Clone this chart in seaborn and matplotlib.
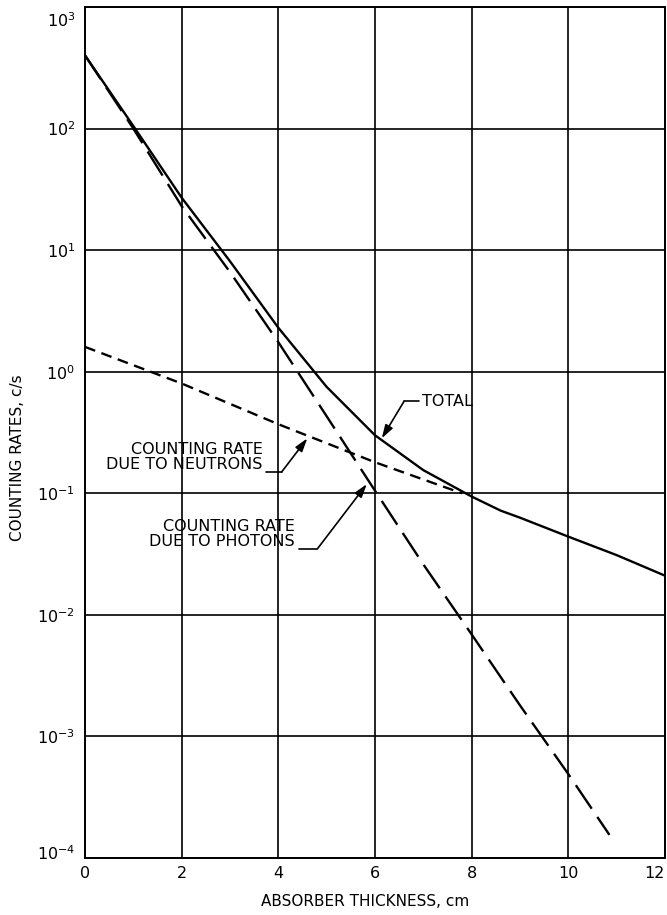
import matplotlib
matplotlib.use("Agg")
import matplotlib.pyplot as plt
import matplotlib.transforms as mtransforms
import numpy as np
import pandas as pd
import seaborn as sns

# Counting rate versus absorber thickness (cm), log scale in c/s
total_x = [0, 1, 2, 3, 4, 5, 6, 7, 8, 8.6, 9, 10, 11, 12]
total_y = [400, 105, 27, 8.1, 2.3, 0.75, 0.30, 0.155, 0.094, 0.072, 0.063, 0.044, 0.031, 0.021]

neutron_x = [0, 2, 4, 6, 7.8]
neutron_y = [1.6, 0.8, 0.37, 0.18, 0.1]

photon_x = [0, 1, 2, 3, 4, 5, 6, 7, 8, 9, 10, 10.85]
photon_y = [400, 100, 23, 6.6, 1.75, 0.43, 0.105, 0.026, 0.0069, 0.0018, 4.9e-4, 1.55e-4]

x_ticks = [0, 2, 4, 6, 8, 10, 12]
y_ticks = [1e-4, 1e-3, 1e-2, 1e-1, 1e0, 1e1, 1e2, 1e3]

sns.set_style("white")
plt.rcParams["font.family"] = ["DejaVu Sans"]
plt.rcParams["text.color"] = "black"
plt.rcParams["axes.labelcolor"] = "black"

fig = plt.figure(figsize=(6.67, 9.15), dpi=100)
W, H = 667, 915
ax = fig.add_axes([85 / W, (H - 858) / H, (665 - 85) / W, (858 - 7) / H])

total = pd.DataFrame({"x": total_x, "y": total_y})
neutron = pd.DataFrame({"x": neutron_x, "y": neutron_y})
photon = pd.DataFrame({"x": photon_x, "y": photon_y})

sns.lineplot(data=total, x="x", y="y", ax=ax, color="black", lw=1.7)
sns.lineplot(data=neutron, x="x", y="y", ax=ax, color="black", lw=1.7,
             linestyle=(0, (4.6, 2.8)))
sns.lineplot(data=photon, x="x", y="y", ax=ax, color="black", lw=1.7,
             linestyle=(0, (12, 4.2)))

ax.set_yscale("log")
ax.set_xlim(0, 12)
ax.set_ylim(1e-4, 1e3)
ax.set_xticks(x_ticks)
ax.set_xticklabels([str(v) for v in x_ticks])
ax.set_yticks(y_ticks)
ax.yaxis.set_minor_locator(matplotlib.ticker.NullLocator())
ax.tick_params(axis="both", length=0, labelsize=11.5, colors="black")
ax.tick_params(axis="x", pad=6)
ax.tick_params(axis="y", pad=7)
ax.grid(True, which="major", color="black", lw=1.2)
for s in ax.spines.values():
    s.set_color("black")
    s.set_linewidth(1.4)
ax.set_xlabel("")
ax.set_ylabel("")

# keep the end labels inside the frame
ax.get_xticklabels()[-1].set_horizontalalignment("right")
ylabels = ax.get_yticklabels()
ylabels[-1].set_transform(ylabels[-1].get_transform()
                          + mtransforms.ScaledTranslation(0, -12 / 100, fig.dpi_scale_trans))
ylabels[0].set_transform(ylabels[0].get_transform()
                         + mtransforms.ScaledTranslation(0, 6 / 100, fig.dpi_scale_trans))

fig.text(365 / W, 1 - 901 / H, "ABSORBER THICKNESS, cm", ha="center", va="center",
         fontsize=11)
fig.text(18 / W, 1 - 458 / H, "COUNTING RATES, c/s", ha="center", va="center",
         rotation=90, fontsize=11)

arrow = dict(arrowstyle="-|>,head_length=0.8,head_width=0.25", color="black",
             lw=1.2, shrinkA=0, shrinkB=0)
fs = 11.5

# TOTAL label
ax.text(6.98, 0.57, "TOTAL", fontsize=fs, ha="left", va="center")
ax.plot([6.6, 6.92], [0.57, 0.57], color="black", lw=1.2)
ax.annotate("", xy=(6.14, 0.283), xytext=(6.6, 0.57), arrowprops=arrow)

# neutron label
ax.text(3.68, 0.15, "COUNTING RATE\nDUE TO NEUTRONS", fontsize=fs, ha="right",
        va="bottom", linespacing=1.0)
ax.plot([3.75, 4.07], [0.15, 0.15], color="black", lw=1.2)
ax.annotate("", xy=(4.6, 0.283), xytext=(4.07, 0.15), arrowprops=arrow)

# photon label
ax.text(4.34, 0.035, "COUNTING RATE\nDUE TO PHOTONS", fontsize=fs, ha="right",
        va="bottom", linespacing=1.0)
ax.plot([4.42, 4.81], [0.035, 0.035], color="black", lw=1.2)
ax.annotate("", xy=(5.83, 0.119), xytext=(4.81, 0.035), arrowprops=arrow)

fig.savefig("out.png", dpi=100, facecolor="white")
